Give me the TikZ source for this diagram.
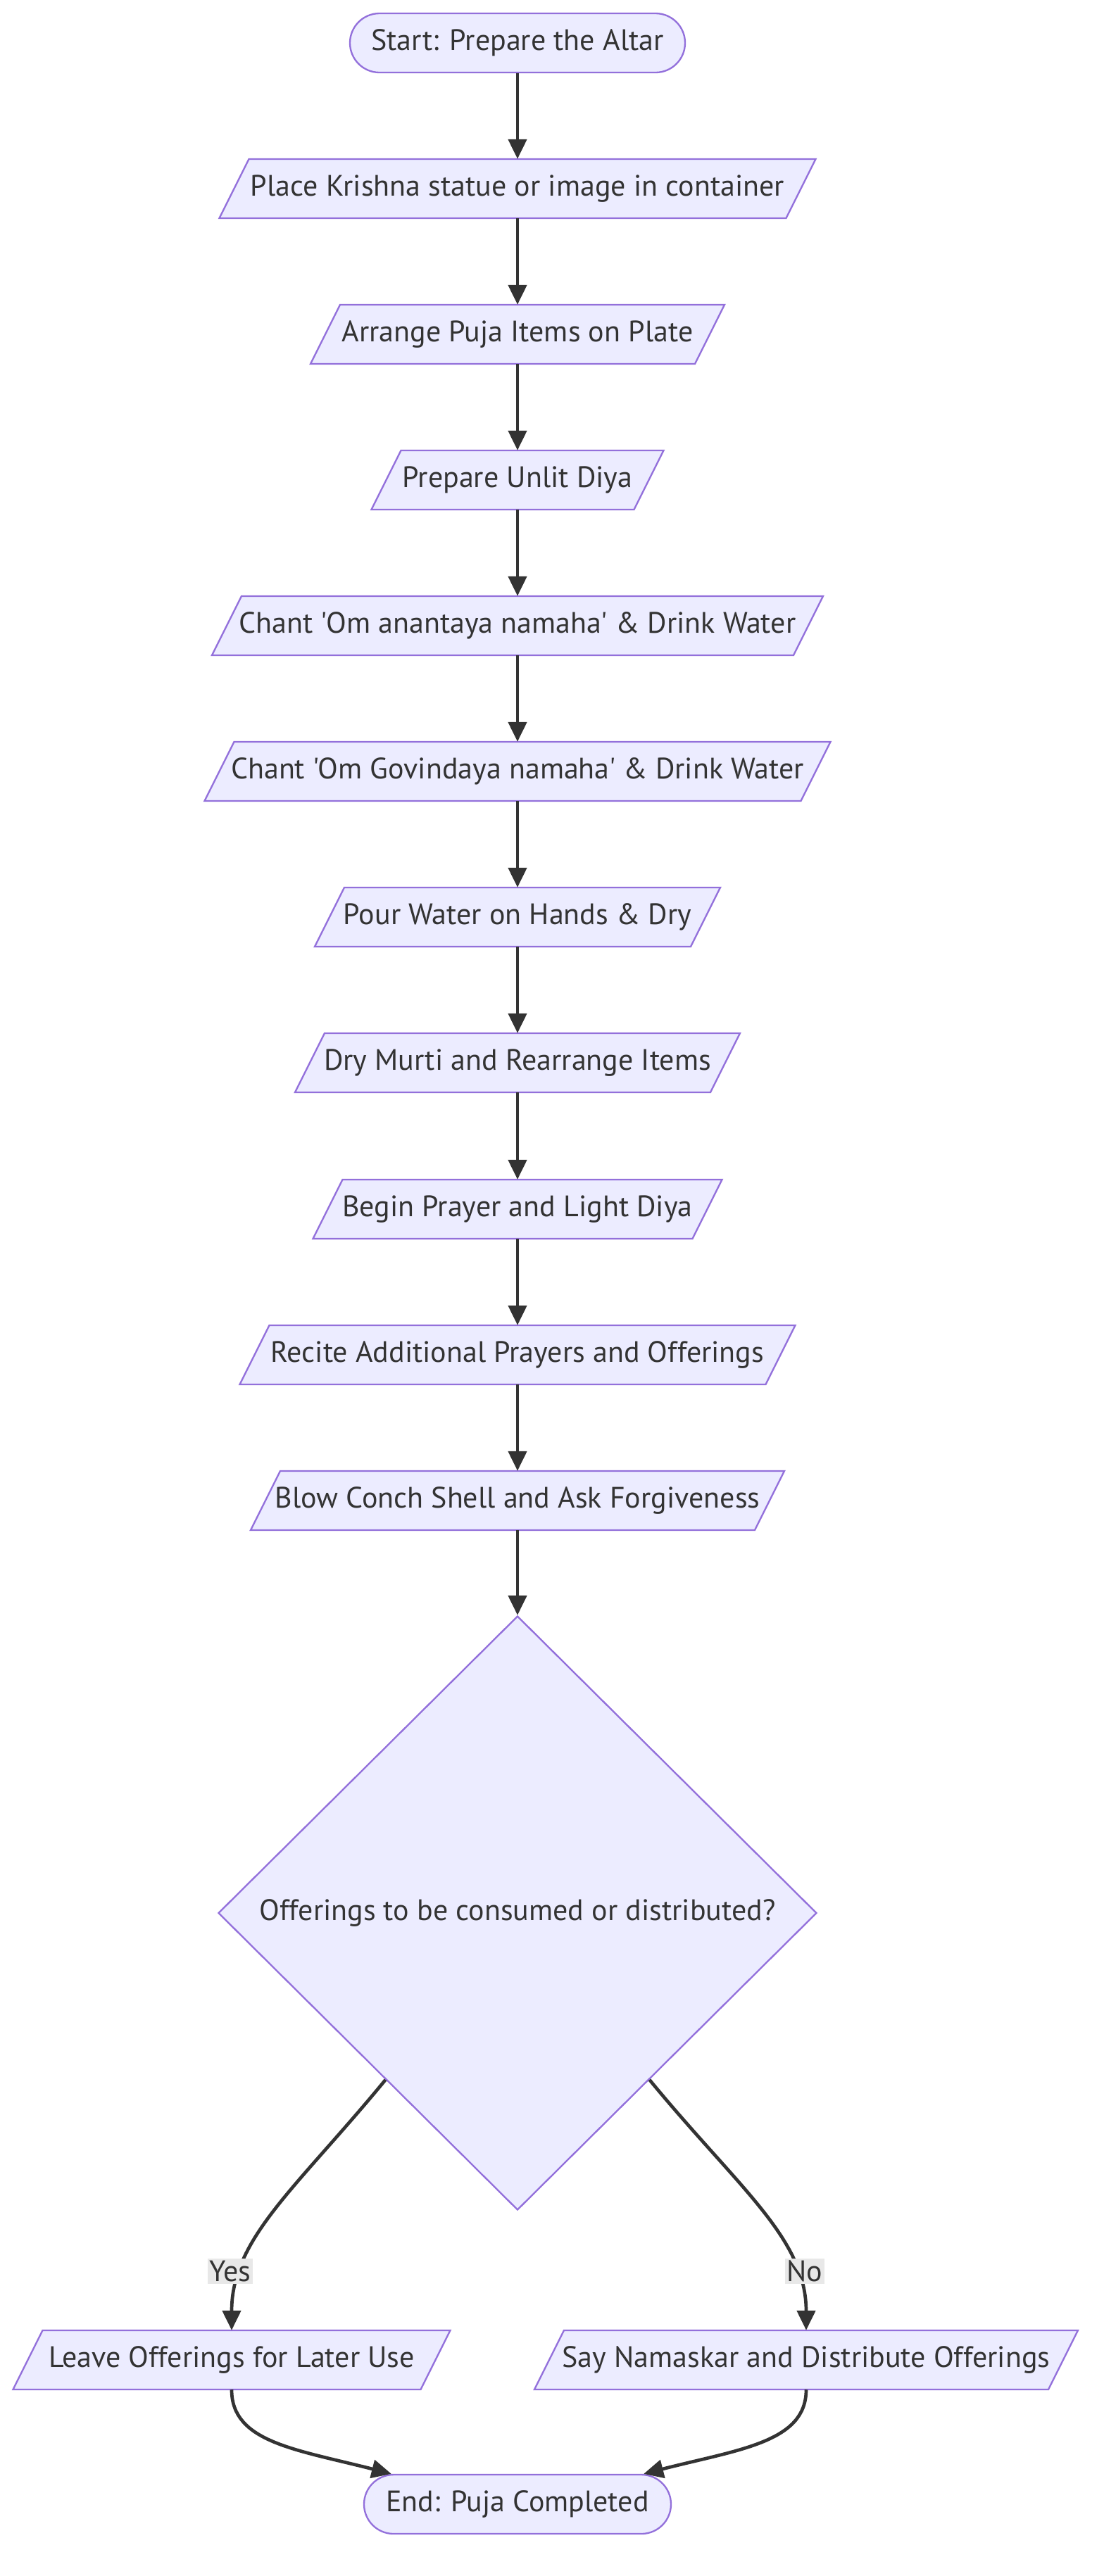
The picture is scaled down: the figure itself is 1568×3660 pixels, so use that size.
\documentclass[tikz,border=0pt]{standalone}
\usepackage{fontspec}
\setmainfont{PT Sans}[Ligatures=TeXOff]
\usetikzlibrary{shapes.geometric,arrows.meta,calc}
\definecolor{nfill}{HTML}{ECECFF}
\definecolor{nstroke}{HTML}{9370DB}
\definecolor{ink}{HTML}{333333}
\definecolor{lblbg}{HTML}{E8E8E8}
\newcommand\para[5]{%
  \draw[pshape] ({#2-#4/2},{#3+42}) -- ({#2+#4/2-42},{#3+42}) -- ({#2+#4/2},{#3-42}) -- ({#2-#4/2+42},{#3-42}) -- cycle;
  \node[pnode, minimum width=#4pt] (#1) at (#2,#3) {#5};}
\begin{document}
\begin{tikzpicture}[x=1pt,y=-1pt,
  txt/.style={font=\fontsize{42}{48}\selectfont, text=ink},
  pnode/.style={txt, minimum height=84pt, inner sep=0pt},
  stad/.style={txt, draw=nstroke, fill=nfill, line width=2.33pt, rounded corners=42pt, minimum height=84pt, inner sep=0pt},
  edge/.style={draw=ink, line width=4.7pt, -{Triangle[length=28pt,width=26pt]}},
  pshape/.style={draw=nstroke, fill=nfill, line width=2.33pt},
  elabel/.style={txt, fill=lblbg, inner sep=3pt},
]
\useasboundingbox (0,0) rectangle (1568,3660);
\node[stad, minimum width=476pt] (n0) at (735,61) {Start: Prepare the Altar};
\para{n1}{735}{268}{847}{Place Krishna statue or image in container}
\para{n2}{735}{475}{588}{Arrange Puja Items on Plate}
\para{n3}{735}{682}{415}{Prepare Unlit Diya}
\para{n4}{735}{889}{868}{Chant 'Om anantaya namaha' \& Drink Water}
\para{n5}{735}{1096}{889}{Chant 'Om Govindaya namaha' \& Drink Water}
\para{n6}{735}{1303}{576}{Pour Water on Hands \& Dry}
\para{n7}{735}{1510}{632}{Dry Murti and Rearrange Items}
\para{n8}{735}{1718}{581}{Begin Prayer and Light Diya}
\para{n9}{735}{1925}{789}{Recite Additional Prayers and Offerings}
\para{n10}{735}{2132}{758}{Blow Conch Shell and Ask Forgiveness}
\node[diamond, txt, draw=nstroke, fill=nfill, line width=2.33pt, minimum width=850pt, minimum height=844pt, inner sep=0pt] (dec) at (735,2718) {Offerings to be consumed or distributed?};
\para{leave}{329}{3353}{621}{Leave Offerings for Later Use}
\para{say}{1145}{3353}{772}{Say Namaskar and Distribute Offerings}
\node[stad, minimum width=436pt] (end) at (735,3558) {End: Puja Completed};

\draw[edge] (n0.south) -- (n1.north);
\draw[edge] (n1.south) -- (n2.north);
\draw[edge] (n2.south) -- (n3.north);
\draw[edge] (n3.south) -- (n4.north);
\draw[edge] (n4.south) -- (n5.north);
\draw[edge] (n5.south) -- (n6.north);
\draw[edge] (n6.south) -- (n7.north);
\draw[edge] (n7.south) -- (n8.north);
\draw[edge] (n8.south) -- (n9.north);
\draw[edge] (n9.south) -- (n10.north);
\draw[edge] (n10.south) -- (dec.north);
\draw[edge] ($(dec.south)!0.44!(dec.west)$) .. controls (420,3110) and (329,3180) .. (leave.north);
\draw[edge] ($(dec.south)!0.44!(dec.east)$) .. controls (1050,3110) and (1145,3180) .. (say.north);
\draw[edge] (leave.south) .. controls (329,3470) and (420,3480) .. ([xshift=40pt]end.north west);
\draw[edge] (say.south) .. controls (1145,3470) and (1050,3480) .. ([xshift=-40pt]end.north east);
\node[elabel] (yes) at (327,3227) {Yes};
\node[elabel] (no) at (1143,3227) {No};
\end{tikzpicture}
\end{document}
